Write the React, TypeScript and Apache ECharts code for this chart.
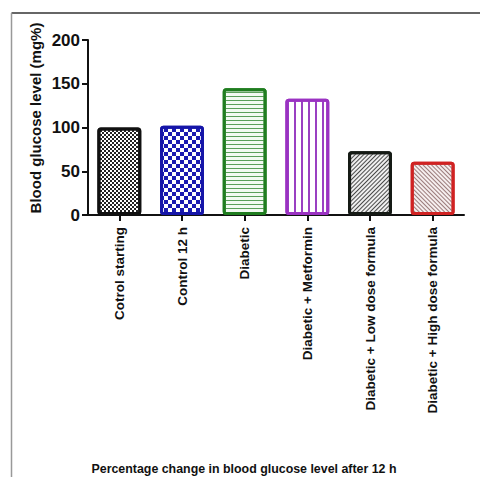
import React, { useEffect, useRef } from "react";
import * as echarts from "echarts";

const categories = [
  "Cotrol starting",
  "Control 12 h",
  "Diabetic",
  "Diabetic + Metformin",
  "Diabetic + Low dose formula",
  "Diabetic + High dose formula",
];
const values = [100, 102, 145, 133, 73, 61];
const yTicks = [0, 50, 100, 150, 200];
const yAxisTitle = "Blood glucose level (mg%)";
const xTitle = "Percentage change in blood glucose level after 12 h";

const borderColors = ["#111111", "#1515a8", "#1f7d1f", "#9a32c2", "#151a15", "#d02222"];
const fillColors = ["#ffffff", "#ffffff", "#f2faf2", "#ffffff", "#efefef", "#f6eeee"];
const decals: any[] = [
  { symbol: "rect", symbolSize: 1, color: "#222222", dashArrayX: [[2, 2], [0, 2, 2, 0]], dashArrayY: [2, 0] },
  { symbol: "rect", symbolSize: 1, color: "#1a1ab0", dashArrayX: [[4, 4], [0, 4, 4, 0]], dashArrayY: [4, 0] },
  { symbol: "rect", symbolSize: 1, color: "#5a9f5a", dashArrayX: [1, 0], dashArrayY: [1, 2.2] },
  { symbol: "rect", symbolSize: 1, color: "#9a40c2", dashArrayX: [1.3, 4.8], dashArrayY: [1, 0] },
  { symbol: "rect", symbolSize: 1, color: "#4a4a4a", dashArrayX: [1, 0], dashArrayY: [1, 2], rotation: -Math.PI / 4 },
  { symbol: "rect", symbolSize: 1, color: "#9a7a7a", dashArrayX: [1, 0], dashArrayY: [1, 2], rotation: Math.PI / 4 },
];

export default function App() {
  const ref = useRef<HTMLDivElement>(null);
  useEffect(() => {
    if (!ref.current) return;
    const chart = echarts.init(ref.current, undefined, { renderer: "svg" });
    const font = "'Liberation Sans', Arial, sans-serif";
    chart.setOption({
      animation: false,
      backgroundColor: "#ffffff",
      grid: { left: 88, right: 16, top: 40, bottom: 262, containLabel: false },
      xAxis: {
        type: "category",
        data: categories,
        axisLine: { show: true, lineStyle: { color: "#111", width: 2 } },
        axisTick: { show: true, alignWithLabel: true, length: 6, lineStyle: { color: "#111", width: 2 } },
        axisLabel: {
          rotate: 90,
          interval: 0,
          margin: 12,
          color: "#111",
          fontWeight: "bold",
          fontSize: 13.5,
          fontFamily: font,
        },
      },
      yAxis: {
        type: "value",
        min: yTicks[0],
        max: yTicks[yTicks.length - 1],
        interval: 50,
        splitLine: { show: false },
        axisLine: { show: true, lineStyle: { color: "#111", width: 2 } },
        axisTick: { show: true, length: 6, lineStyle: { color: "#111", width: 2 } },
        axisLabel: {
          margin: 8,
          color: "#111",
          fontWeight: "bold",
          fontSize: 17,
          fontFamily: font,
        },
      },
      series: [
        {
          type: "bar",
          barCategoryGap: "30%",
          data: values.map((v, i) => ({
            value: v,
            itemStyle: {
              color: fillColors[i],
              borderColor: borderColors[i],
              borderWidth: 3,
              borderRadius: 2,
              decal: decals[i],
            },
          })),
        },
      ],
      graphic: [
        { type: "line", shape: { x1: 11.5, y1: 13, x2: 480, y2: 13 }, style: { stroke: "#333", lineWidth: 1.5 } },
        { type: "line", shape: { x1: 11.5, y1: 13, x2: 11.5, y2: 477 }, style: { stroke: "#999", lineWidth: 1.5 } },
        { type: "line", shape: { x1: 82, y1: 215, x2: 88, y2: 215 }, style: { stroke: "#111", lineWidth: 2 } },
        {
          type: "text",
          x: 35,
          y: 118,
          rotation: Math.PI / 2,
          style: {
            text: yAxisTitle,
            fill: "#111",
            font: "bold 15px " + font,
            align: "center",
            verticalAlign: "middle",
          },
        },
        {
          type: "text",
          x: 244,
          y: 469,
          style: {
            text: xTitle,
            fill: "#111",
            font: "bold 12.4px " + font,
            align: "center",
            verticalAlign: "middle",
          },
        },
      ],
    });
    return () => chart.dispose();
  }, []);
  return (
    <div
      ref={ref}
      style={{ position: "fixed", left: 0, top: 0, width: 480, height: 477 }}
    />
  );
}
